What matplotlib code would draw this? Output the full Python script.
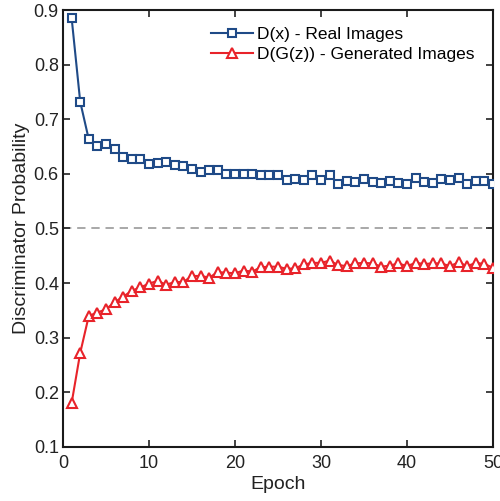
import matplotlib
matplotlib.use("Agg")
import matplotlib.pyplot as plt
import numpy as np

plt.rcParams['font.family'] = ['Liberation Sans', 'DejaVu Sans']

epochs = list(range(1, 51))
d_real = [0.886, 0.732, 0.663, 0.651, 0.655, 0.645, 0.631, 0.628, 0.627, 0.618,
          0.620, 0.622, 0.617, 0.615, 0.608, 0.604, 0.607, 0.607, 0.599, 0.600,
          0.600, 0.599, 0.597, 0.598, 0.597, 0.589, 0.590, 0.589, 0.597, 0.589,
          0.597, 0.582, 0.587, 0.585, 0.591, 0.585, 0.583, 0.586, 0.583, 0.581,
          0.593, 0.585, 0.583, 0.590, 0.589, 0.593, 0.582, 0.586, 0.586, 0.581]
d_fake = [0.180, 0.272, 0.340, 0.346, 0.352, 0.365, 0.375, 0.386, 0.392, 0.399,
          0.404, 0.397, 0.402, 0.402, 0.413, 0.413, 0.410, 0.420, 0.419, 0.418,
          0.423, 0.421, 0.429, 0.430, 0.430, 0.426, 0.427, 0.434, 0.437, 0.437,
          0.441, 0.433, 0.431, 0.436, 0.437, 0.436, 0.430, 0.432, 0.436, 0.431,
          0.437, 0.435, 0.436, 0.436, 0.431, 0.438, 0.431, 0.437, 0.435, 0.428]

blue = '#1f4a87'
red = '#e8232a'

fig = plt.figure(figsize=(5.0, 5.01), dpi=100)
ax = fig.add_axes([0.126, 0.108, 0.860, 0.872])

ax.axhline(0.5, color='#9a9a9a', linestyle=(0, (5, 3.5)), linewidth=1.2, zorder=1)
ax.plot(epochs, d_real, color=blue, linewidth=1.5, marker='s', markersize=5.5,
        markerfacecolor='white', markeredgecolor=blue, markeredgewidth=1.5,
        label='D(x) - Real Images', zorder=3)
ax.plot(epochs, d_fake, color=red, linewidth=1.5, marker='^', markersize=6.5,
        markerfacecolor='white', markeredgecolor=red, markeredgewidth=1.5,
        label='D(G(z)) - Generated Images', zorder=3)

ax.set_xlim(0, 50)
ax.set_ylim(0.1, 0.9)
ax.set_xticks([0, 10, 20, 30, 40, 50])
ax.set_yticks(np.round(np.arange(0.1, 0.91, 0.1), 1))
ax.set_yticklabels(['0.1', '0.2', '0.3', '0.4', '0.5', '0.6', '0.7', '0.8', '0.9'])
ax.tick_params(direction='in', top=True, right=True, length=5, width=1.2,
               labelsize=13, colors='#222222')
ax.tick_params(axis='x', pad=6)
ax.tick_params(axis='y', pad=3)
for s in ax.spines.values():
    s.set_linewidth(1.5)
    s.set_color('#1a1a1a')

ax.set_xlabel('Epoch', fontsize=14, labelpad=3, color='#222222')
ax.set_ylabel('Discriminator Probability', fontsize=14, labelpad=3, color='#222222')

leg = ax.legend(loc='upper right', frameon=False, fontsize=12.5,
                bbox_to_anchor=(0.985, 0.99), handlelength=2.4, handletextpad=0.25,
                borderaxespad=0.3, labelspacing=0.3)

fig.savefig('out.png', dpi=100)
